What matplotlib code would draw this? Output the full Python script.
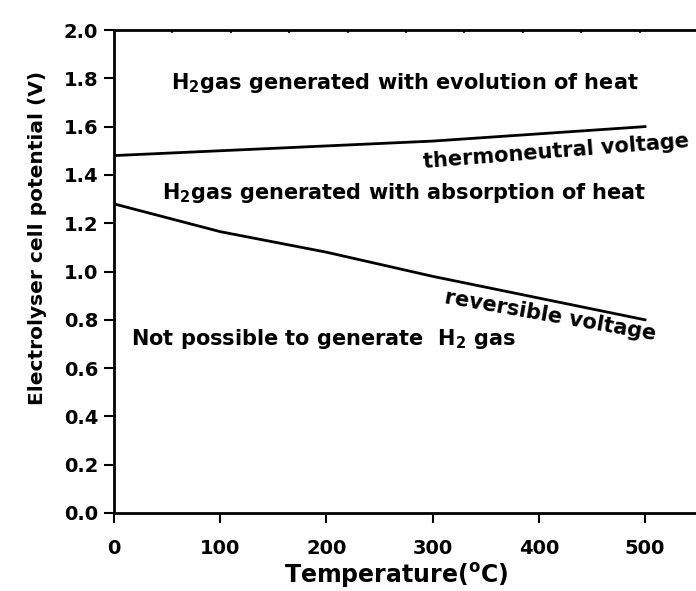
import numpy as np
import matplotlib
matplotlib.use("Agg")
import matplotlib.pyplot as plt
from matplotlib.ticker import MultipleLocator

plt.rcParams['font.family'] = 'DejaVu Sans'
plt.rcParams['font.weight'] = 'bold'
plt.rcParams['axes.labelweight'] = 'bold'
plt.rcParams['mathtext.fontset'] = 'custom'
plt.rcParams['mathtext.rm'] = 'DejaVu Sans:bold'
plt.rcParams['mathtext.it'] = 'DejaVu Sans:bold'
plt.rcParams['mathtext.bf'] = 'DejaVu Sans:bold'
plt.rcParams['mathtext.default'] = 'rm'

# temperature (C) and cell voltages (V)
temp = [0, 100, 200, 300, 400, 500]
thermoneutral = [1.48, 1.50, 1.52, 1.54, 1.57, 1.60]
reversible = [1.28, 1.165, 1.08, 0.98, 0.89, 0.80]

xticks = [0, 100, 200, 300, 400, 500]
yticks = [0.0, 0.2, 0.4, 0.6, 0.8, 1.0, 1.2, 1.4, 1.6, 1.8, 2.0]

fig = plt.figure(figsize=(6.96, 5.91), dpi=100)
ax = fig.add_axes([114 / 696, 78 / 591, 1 - 114 / 696, 483 / 591])

ax.plot(temp, thermoneutral, color='black', lw=2)
ax.plot(temp, reversible, color='black', lw=2)

ax.set_xlim(0, 548)
ax.set_ylim(0, 2.0)
ax.set_xticks(xticks)
ax.set_xticklabels([str(t) for t in xticks])
ax.set_yticks(yticks)
ax.set_yticklabels(['%.1f' % v for v in yticks])
ax.xaxis.set_minor_locator(MultipleLocator(55))
ax.tick_params(axis='both', which='major', direction='out', length=7.5, width=1.5,
               labelsize=14)
ax.tick_params(axis='x', which='major', pad=11)
ax.tick_params(axis='y', which='major', pad=4)
ax.tick_params(axis='x', which='minor', bottom=False, top=True, direction='in',
               length=2.5, width=1.2)
ax.spines['right'].set_visible(False)
for s in ['left', 'bottom', 'top']:
    ax.spines[s].set_linewidth(2)

ax.set_xlabel(r'Temperature($^\mathrm{o}$C)', fontsize=17)
ax.xaxis.set_label_coords(0.485, -0.100)
ax.set_ylabel('Electrolyser cell potential (V)', fontsize=14.5)
ax.yaxis.set_label_coords(-0.115, 0.569)

fs = 15
ax.text(54, 1.78, r'H$_\mathrm{2}$gas generated with evolution of heat',
        fontsize=fs, ha='left', va='center')
ax.text(416, 1.495, 'thermoneutral voltage', fontsize=fs, ha='center',
        va='center', rotation=4.5)
ax.text(45, 1.325, r'H$_\mathrm{2}$gas generated with absorption of heat',
        fontsize=fs, ha='left', va='center')
ax.text(411, 0.816, 'reversible voltage', fontsize=fs, ha='center',
        va='center', rotation=-10)
ax.text(16, 0.72, r'Not possible to generate  H$_\mathrm{2}$ gas',
        fontsize=fs, ha='left', va='center')

fig.savefig('out.png', dpi=100)
